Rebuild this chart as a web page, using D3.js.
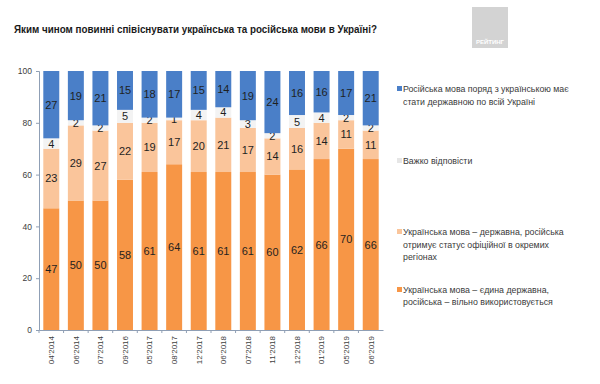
<!DOCTYPE html>
<html lang="uk">
<head>
<meta charset="utf-8">
<title>Мови в Україні</title>
<script src="https://cdn.jsdelivr.net/npm/d3@7"></script>
<style>
  body { margin: 0; background: #fff; }
  svg text { font-family: "Liberation Sans", Arial, sans-serif; }
</style>
</head>
<body>
<div id="chart"></div>
<script>
// survey dates
var waves = ["04'2014", "06'2014", "07'2014", "09'2016", "05'2017", "08'2017", "12'2017",
             "06'2018", "07'2018", "11'2018", "12'2018", "01'2019", "05'2019", "06'2019"];

// series, bottom to top
var onlyUkr   = [47, 50, 50, 58, 61, 64, 61, 61, 61, 60, 62, 66, 70, 66];
var officialRu = [23, 29, 27, 22, 19, 17, 20, 21, 17, 14, 16, 14, 11, 11];
var hardToSay = [4, 2, 2, 5, 2, 1, 4, 4, 3, 2, 5, 4, 2, 2];
var stateRu   = [27, 19, 21, 15, 18, 17, 15, 14, 19, 24, 16, 16, 17, 21];

var legendLines = [
  ["Українська мова – єдина державна,", "російська – вільно використовується"],
  ["Українська мова – державна, російська", "отримує статус офіційної в окремих", "регіонах"],
  ["Важко відповісти"],
  ["Російська мова поряд з українською має", "стати державною по всій Україні"]
];
var yTicks = [0, 20, 40, 60, 80, 100];

var colors = ["#f79646", "#fac59b", "#f3f3f3", "#4a7fc8"];
var keys = ["s0", "s1", "s2", "s3"];

var table = waves.map(function(w, i) {
  return {wave: w, s0: onlyUkr[i], s1: officialRu[i], s2: hardToSay[i], s3: stateRu[i]};
});

var W = 600, H = 384;
var svg = d3.select("#chart").append("svg")
  .attr("width", W).attr("height", H);

svg.append("rect").attr("width", W).attr("height", H).attr("fill", "#fff");

// title
svg.append("text")
  .attr("x", 14).attr("y", 33)
  .attr("font-size", "11.5px").attr("font-weight", "bold").attr("fill", "#1a1a1a")
  .attr("textLength", 363).attr("lengthAdjust", "spacingAndGlyphs")
  .text("Яким чином повинні співіснувати українська та російська мови в Україні?");

// logo box
var logo = svg.append("g");
logo.append("rect").attr("x", 472).attr("y", 7).attr("width", 36).attr("height", 41).attr("fill", "#d3d3d3");
logo.append("text").attr("x", 490).attr("y", 44).attr("text-anchor", "middle")
  .attr("font-size", "6px").attr("fill", "#fff").attr("font-weight", "bold").text("РЕЙТИНГ");

var x = d3.scaleBand().domain(waves).range([39, 383]).paddingInner(0.35).paddingOuter(0.175);
var y = d3.scaleLinear().domain([0, 100]).range([330, 71]);

var stack = d3.stack().keys(keys)(table);
var yMax = y.domain()[1];

// rounded shares: the top segment fills whatever is left up to 100
function upper(d, i) { return i === keys.length - 1 ? yMax : Math.min(yMax, d[1]); }

var layers = svg.append("g").selectAll("g").data(stack).enter().append("g")
  .attr("fill", function(d, i) { return colors[i]; });

layers.each(function(layer, li) {
  var g = d3.select(this);
  g.selectAll("rect").data(layer).enter().append("rect")
    .attr("x", function(d) { return x(d.data.wave); })
    .attr("width", x.bandwidth())
    .attr("y", function(d) { return y(upper(d, li)); })
    .attr("height", function(d) { return y(d[0]) - y(upper(d, li)); });

  g.selectAll("text").data(layer).enter().append("text")
    .attr("x", function(d) { return x(d.data.wave) + x.bandwidth() / 2; })
    .attr("y", function(d) { return (y(d[0]) + y(upper(d, li))) / 2 + 4; })
    .attr("text-anchor", "middle")
    .attr("font-size", "11px")
    .attr("fill", "#1f1f1f")
    .text(function(d) { return d.data[keys[li]]; });
});

// y axis
var yAxis = svg.append("g").attr("transform", "translate(39,0)")
  .call(d3.axisLeft(y).tickValues(yTicks).tickSize(3).tickPadding(4));
yAxis.select(".domain").attr("stroke", "#8f9fb5");
yAxis.selectAll(".tick line").attr("stroke", "#8f9fb5");
yAxis.selectAll("text").attr("font-size", "8.5px").attr("fill", "#404040")
  .attr("font-family", "Liberation Sans, Arial, sans-serif");

// x axis
var xAxis = svg.append("g").attr("transform", "translate(0,330)")
  .call(d3.axisBottom(x).tickSize(0).tickPadding(0));
xAxis.select(".domain").attr("stroke", "#8f9fb5");
xAxis.selectAll("text")
  .attr("font-size", "8px").attr("fill", "#404040")
  .attr("font-family", "Liberation Sans, Arial, sans-serif")
  .attr("text-anchor", "end")
  .attr("dy", "0.35em")
  .attr("transform", "translate(0,6) rotate(-90)")
  .attr("x", 0).attr("y", 0);
// tick marks between bars
xAxis.selectAll(".sep").data(waves).enter().append("line")
  .attr("class", "sep")
  .attr("x1", function(d) { return x(d) - x.step() * x.paddingInner() / 2; })
  .attr("x2", function(d) { return x(d) - x.step() * x.paddingInner() / 2; })
  .attr("y1", 0).attr("y2", 3)
  .attr("stroke", "#8f9fb5");

// legend
var legendY = [[290, 302], [232, 244.5, 257], [161], [89, 101.5]];
var legend = svg.append("g");
legendLines.forEach(function(lines, i) {
  legend.append("rect")
    .attr("x", 397).attr("y", legendY[i][0] - 3)
    .attr("width", 5).attr("height", 5)
    .attr("fill", i === 2 ? "#e6e6e6" : colors[i]);
  lines.forEach(function(t, j) {
    legend.append("text")
      .attr("x", 403).attr("y", legendY[i][j] + 3)
      .attr("font-size", "8.8px").attr("fill", "#3a3a3a")
      .text(t);
  });
});
</script>
</body>
</html>
